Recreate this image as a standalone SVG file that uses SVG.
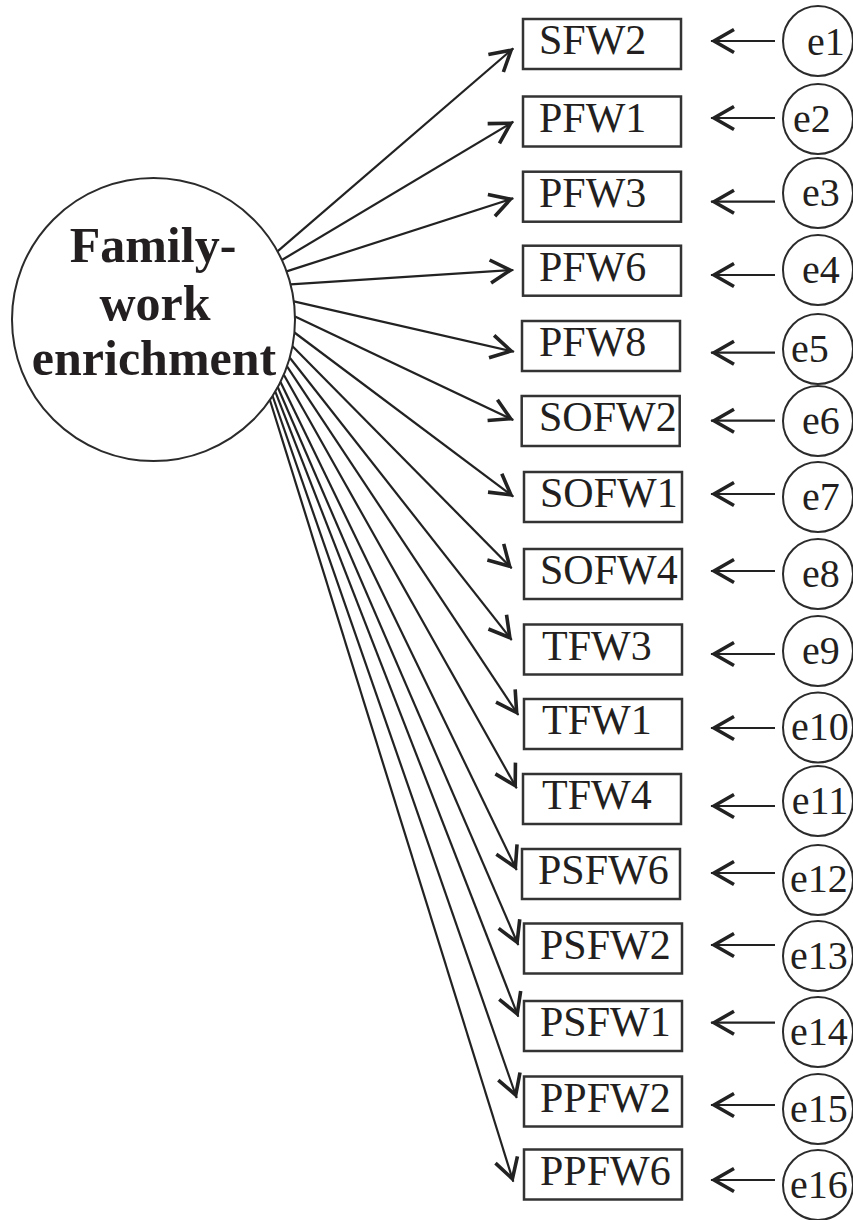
<svg xmlns="http://www.w3.org/2000/svg" width="853" height="1220" viewBox="0 0 853 1220">
  <style>
    .bg { fill: #ffffff; }
    .latent { fill: #ffffff; stroke: #2b2b2b; stroke-width: 2; }
    .box { fill: #ffffff; stroke: #333333; stroke-width: 2.5; }
    .err { fill: #ffffff; stroke: #2b2b2b; stroke-width: 2; }
    .path { stroke: #222222; stroke-width: 2.2; fill: none; marker-end: url(#ah); }
    .ltxt { font-family: "Liberation Serif", "Times New Roman", serif; font-weight: bold; font-size: 50px; fill: #231f20; text-anchor: middle; }
    .btxt { font-family: "Liberation Serif", "Times New Roman", serif; font-size: 42px; fill: #231f20; }
    .etxt { font-family: "Liberation Serif", "Times New Roman", serif; font-size: 40px; fill: #231f20; text-anchor: middle; }
  </style>
  <defs>
    <marker id="ah" markerUnits="userSpaceOnUse" markerWidth="40" markerHeight="40" refX="3" refY="0" orient="auto" overflow="visible">
      <path d="M-20,-11.5 L0,0 L-20,11.5" fill="none" stroke="#222222" stroke-width="3.6" stroke-linejoin="miter"/>
    </marker>
  </defs>

  <rect class="bg" x="0" y="0" width="853" height="1220"/>

  <!-- connectors: loadings from the latent factor and error terms -->
  <g id="connectors">
    <line class="path" x1="277.5" y1="251.4" x2="513.3" y2="48.3"/>
    <line class="path" x1="281.9" y1="260.0" x2="513.3" y2="121.7"/>
    <line class="path" x1="286.6" y1="271.4" x2="513.3" y2="198.3"/>
    <line class="path" x1="290.6" y1="284.4" x2="513.3" y2="270"/>
    <line class="path" x1="293.8" y1="301.4" x2="514" y2="351.7"/>
    <line class="path" x1="295.0" y1="316.4" x2="513.3" y2="420"/>
    <line class="path" x1="294.4" y1="332.5" x2="513.3" y2="496.7"/>
    <line class="path" x1="292.5" y1="346.2" x2="511.7" y2="568.3"/>
    <line class="path" x1="289.8" y1="357.7" x2="511.7" y2="640"/>
    <line class="path" x1="287.0" y1="366.4" x2="518.3" y2="715"/>
    <line class="path" x1="283.8" y1="374.7" x2="516.7" y2="788.3"/>
    <line class="path" x1="280.5" y1="381.9" x2="516.7" y2="870"/>
    <line class="path" x1="277.8" y1="387.2" x2="518.3" y2="945"/>
    <line class="path" x1="275.3" y1="391.6" x2="518.3" y2="1016.7"/>
    <line class="path" x1="272.6" y1="396.0" x2="516.7" y2="1098"/>
    <line class="path" x1="269.9" y1="400.0" x2="513.3" y2="1181.7"/>

    <line class="path" x1="775" y1="41" x2="711" y2="41"/>
    <line class="path" x1="775" y1="118" x2="711" y2="118"/>
    <line class="path" x1="775" y1="201.7" x2="711" y2="201.7"/>
    <line class="path" x1="775" y1="275" x2="711" y2="275"/>
    <line class="path" x1="775" y1="352.7" x2="711" y2="352.7"/>
    <line class="path" x1="775" y1="420.7" x2="711" y2="420.7"/>
    <line class="path" x1="775" y1="494" x2="711" y2="494"/>
    <line class="path" x1="775" y1="571" x2="711" y2="571"/>
    <line class="path" x1="775" y1="654" x2="711" y2="654"/>
    <line class="path" x1="775" y1="728" x2="711" y2="728"/>
    <line class="path" x1="775" y1="806" x2="711" y2="806"/>
    <line class="path" x1="775" y1="873" x2="711" y2="873"/>
    <line class="path" x1="775" y1="945" x2="711" y2="945"/>
    <line class="path" x1="775" y1="1022.7" x2="711" y2="1022.7"/>
    <line class="path" x1="775" y1="1105" x2="711" y2="1105"/>
    <line class="path" x1="775" y1="1180" x2="711" y2="1180"/>
  </g>

  <!-- latent factor -->
  <g id="family-work-enrichment">
    <circle class="latent" cx="153.5" cy="319.5" r="141.5"/>
    <text class="ltxt" x="153" y="262">Family-</text>
    <text class="ltxt" x="155" y="320">work</text>
    <text class="ltxt" x="154" y="375">enrichment</text>
  </g>

  <!-- observed indicators -->
  <g id="SFW2"><rect class="box" x="523" y="19" width="158" height="50"/><text class="btxt" x="539" y="54">SFW2</text></g>
  <g id="PFW1"><rect class="box" x="523" y="96.5" width="158" height="50"/><text class="btxt" x="539" y="131.5">PFW1</text></g>
  <g id="PFW3"><rect class="box" x="523" y="171.7" width="158" height="50"/><text class="btxt" x="539" y="206.7">PFW3</text></g>
  <g id="PFW6"><rect class="box" x="523" y="245.7" width="158" height="50"/><text class="btxt" x="539" y="280.7">PFW6</text></g>
  <g id="PFW8"><rect class="box" x="522" y="321" width="158" height="50"/><text class="btxt" x="539" y="356">PFW8</text></g>
  <g id="SOFW2"><rect class="box" x="521.7" y="396" width="158" height="50"/><text class="btxt" x="539" y="431">SOFW2</text></g>
  <g id="SOFW1"><rect class="box" x="524" y="472" width="158" height="50"/><text class="btxt" x="540" y="507">SOFW1</text></g>
  <g id="SOFW4"><rect class="box" x="524" y="549" width="158" height="50"/><text class="btxt" x="540" y="584">SOFW4</text></g>
  <g id="TFW3"><rect class="box" x="524" y="624.5" width="158" height="50"/><text class="btxt" x="542" y="659.5">TFW3</text></g>
  <g id="TFW1"><rect class="box" x="524" y="699" width="158" height="50"/><text class="btxt" x="542" y="734">TFW1</text></g>
  <g id="TFW4"><rect class="box" x="523" y="774" width="158" height="50"/><text class="btxt" x="542" y="809">TFW4</text></g>
  <g id="PSFW6"><rect class="box" x="522" y="849" width="158" height="50"/><text class="btxt" x="538" y="884">PSFW6</text></g>
  <g id="PSFW2"><rect class="box" x="524" y="923.5" width="158" height="50"/><text class="btxt" x="540" y="958.5">PSFW2</text></g>
  <g id="PSFW1"><rect class="box" x="524" y="1001" width="158" height="50"/><text class="btxt" x="540" y="1036">PSFW1</text></g>
  <g id="PPFW2"><rect class="box" x="524" y="1076.5" width="158" height="50"/><text class="btxt" x="540" y="1111.5">PPFW2</text></g>
  <g id="PPFW6"><rect class="box" x="524" y="1149.5" width="158" height="50"/><text class="btxt" x="540" y="1184.5">PPFW6</text></g>

  <!-- error terms -->
  <g id="e1"><circle class="err" cx="818" cy="41" r="35"/><text class="etxt" x="826" y="55">e1</text></g>
  <g id="e2"><circle class="err" cx="818" cy="119" r="35"/><text class="etxt" x="812" y="132">e2</text></g>
  <g id="e3"><circle class="err" cx="818" cy="193" r="35"/><text class="etxt" x="821" y="206">e3</text></g>
  <g id="e4"><circle class="err" cx="818" cy="270" r="35"/><text class="etxt" x="821" y="283">e4</text></g>
  <g id="e5"><circle class="err" cx="818" cy="349" r="35"/><text class="etxt" x="810" y="362">e5</text></g>
  <g id="e6"><circle class="err" cx="818" cy="421" r="35"/><text class="etxt" x="821" y="434">e6</text></g>
  <g id="e7"><circle class="err" cx="818" cy="497" r="35"/><text class="etxt" x="821" y="510">e7</text></g>
  <g id="e8"><circle class="err" cx="818" cy="574" r="35"/><text class="etxt" x="821" y="587">e8</text></g>
  <g id="e9"><circle class="err" cx="818" cy="651" r="35"/><text class="etxt" x="821" y="664">e9</text></g>
  <g id="e10"><circle class="err" cx="818" cy="727.5" r="35"/><text class="etxt" x="820" y="740">e10</text></g>
  <g id="e11"><circle class="err" cx="818" cy="801" r="35"/><text class="etxt" x="820" y="814">e11</text></g>
  <g id="e12"><circle class="err" cx="818" cy="880" r="35"/><text class="etxt" x="819" y="892">e12</text></g>
  <g id="e13"><circle class="err" cx="818" cy="956" r="35"/><text class="etxt" x="819" y="969">e13</text></g>
  <g id="e14"><circle class="err" cx="818" cy="1032" r="35"/><text class="etxt" x="819" y="1045">e14</text></g>
  <g id="e15"><circle class="err" cx="818" cy="1109" r="35"/><text class="etxt" x="819" y="1122">e15</text></g>
  <g id="e16"><circle class="err" cx="818" cy="1185" r="35"/><text class="etxt" x="819" y="1198">e16</text></g>
</svg>
